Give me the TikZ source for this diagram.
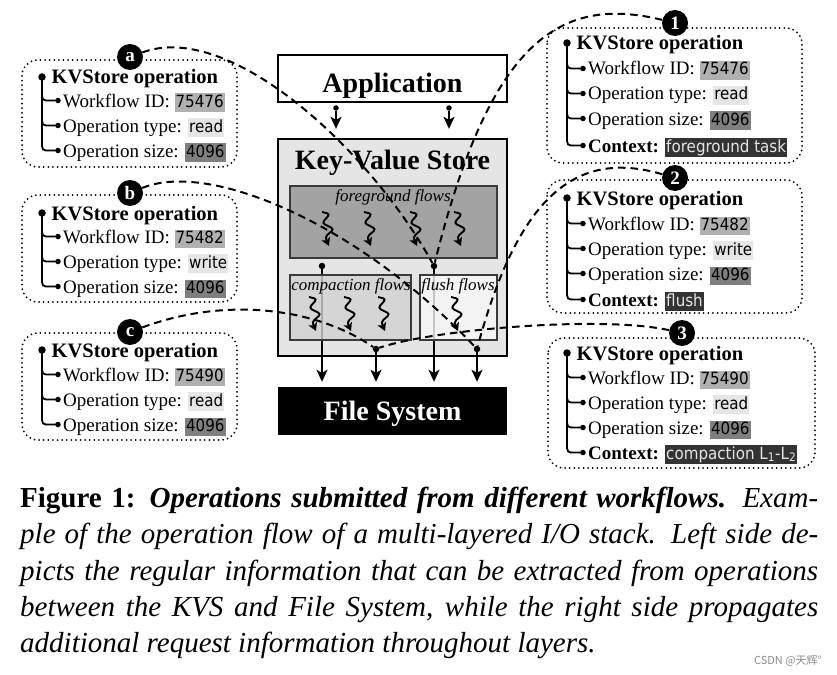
\documentclass[tikz,border=0pt]{standalone}
\usepackage{fontspec}
\setmainfont{Liberation Serif}
\newfontfamily\valfont[FakeStretch=0.9]{DejaVu Sans}
\newfontfamily\cjkfont{Noto Sans CJK SC}
\usetikzlibrary{arrows.meta}
\definecolor{vmid}{HTML}{B0B0B0}
\definecolor{vlight}{HTML}{E6E6E6}
\definecolor{vdark}{HTML}{7F7F7F}
\definecolor{vctx}{HTML}{333333}
\definecolor{kvsfill}{HTML}{E5E5E5}
\definecolor{fgfill}{HTML}{A3A3A3}
\definecolor{cpfill}{HTML}{D2D2D2}
\definecolor{flfill}{HTML}{F7F7F7}
\definecolor{edgegray}{HTML}{3A3A3A}
\newcommand\val[2]{{\setlength\fboxsep{1pt}\colorbox{#1}{\valfont\fontsize{16.8}{18}\selectfont\rule[-4pt]{0pt}{16.5pt}#2}}}
\newcommand\ctxval[1]{{\setlength\fboxsep{1pt}\colorbox{vctx}{\color{white!90!black}\valfont\fontsize{16.8}{18}\selectfont\rule[-4pt]{0pt}{16.5pt}#1}}}
\tikzset{
  tree/.style={line width=1.8pt},
  bigdot/.style={circle,fill=black,inner sep=0pt,minimum size=7.5pt},
  smalldot/.style={circle,fill=black,inner sep=0pt,minimum size=5.5pt},
  flowdot/.style={circle,fill=black,inner sep=0pt,minimum size=6.5pt},
  badge/.style={circle,fill=black,text=white,inner sep=0pt,minimum size=26pt,font=\bfseries\fontsize{19}{19}\selectfont},
  infobox/.style={draw,line width=2pt,dash pattern=on 0pt off 4.6pt,line cap=round,rounded corners=16pt},
  rowtxt/.style={anchor=base west,inner sep=0pt,font=\fontsize{19}{22}\selectfont},
  ttltxt/.style={anchor=base west,inner sep=0pt,font=\bfseries\fontsize{20.5}{22}\selectfont},
  link/.style={line width=2pt,dash pattern=on 7.5pt off 5pt},
  flowarrow/.style={line width=1.9pt,-{Stealth[length=12pt,width=11pt,inset=3pt]}},
  layer/.style={draw,line width=2.3pt,inner sep=0pt},
  subbox/.style={draw=edgegray,line width=2pt,inner sep=0pt},
  flowlbl/.style={font=\itshape\fontsize{17}{17}\selectfont,inner sep=0pt,anchor=base},
  bigtitle/.style={font=\bfseries\fontsize{28}{28}\selectfont,inner sep=0pt,anchor=base},
  captxt/.style={anchor=base west,inner sep=0pt,font=\itshape\fontsize{29}{34}\selectfont},
  squig/.pic={\draw[line width=1.9pt,rounded corners=3pt,-{Stealth[length=8pt,width=9pt,inset=2pt]}] (-6,0) -- (2,2) -- (-6,11) -- (6,17) -- (-3,25) -- (1,34);}
}
\newcommand\ttlrow[3]{\node[bigdot] (#1root) at (#2,#3-7) {};
  \node[ttltxt] (#1title) at (#2+9.5,#3) {KVStore operation};}
\newcommand\itemrow[5]{\node[smalldot] (#1dot) at (#2+16,#3-6.5) {};
  \draw[tree] (#2,#3-16) .. controls (#2,#3-6.5) .. (#2+8,#3-6.5) -- (#1dot.center);
  \node[rowtxt] (#1txt) at (#2+21,#3) {#4 #5};}
\begin{document}
\begin{tikzpicture}[x=1pt,y=-1pt]
\path[use as bounding box, fill=white] (0,0) rectangle (837,674);

% ---------- left info boxes ----------
\draw[infobox] (22,60) rectangle (237,167);
\ttlrow{a}{42}{84}
\itemrow{aa}{42}{107}{Workflow ID:}{\val{vmid}{75476}}
\itemrow{ab}{42}{132}{Operation type:}{\val{vlight}{read}}
\itemrow{ac}{42}{157}{Operation size:}{\val{vdark}{4096}}
\draw[tree] (aroot.center) -- (42,141);
\node[badge] (ba) at (130,57) {a};

\draw[infobox] (22,195) rectangle (237,302);
\ttlrow{b}{42}{220}
\itemrow{ba}{42}{243}{Workflow ID:}{\val{vmid}{75482}}
\itemrow{bb}{42}{268}{Operation type:}{\val{vlight}{write}}
\itemrow{bc}{42}{293}{Operation size:}{\val{vdark}{4096}}
\draw[tree] (broot.center) -- (42,277);
\node[badge] (bb) at (130,193) {b};

\draw[infobox] (22,333) rectangle (237,440);
\ttlrow{c}{42}{357}
\itemrow{ca}{42}{381}{Workflow ID:}{\val{vmid}{75490}}
\itemrow{cb}{42}{406}{Operation type:}{\val{vlight}{read}}
\itemrow{cc}{42}{431}{Operation size:}{\val{vdark}{4096}}
\draw[tree] (croot.center) -- (42,415);
\node[badge] (bc) at (130,332) {c};

% ---------- right info boxes ----------
\draw[infobox] (547,28) rectangle (802,163);
\ttlrow{p}{567}{50}
\itemrow{pa}{567}{75}{Workflow ID:}{\val{vmid}{75476}}
\itemrow{pb}{567}{100}{Operation type:}{\val{vlight}{read}}
\itemrow{pc}{567}{125}{Operation size:}{\val{vdark}{4096}}
\itemrow{pd}{567}{152}{\textbf{Context:}}{\ctxval{foreground task}}
\draw[tree] (proot.center) -- (567,136);
\node[badge] (b1) at (675,23) {1};

\draw[infobox] (547,180) rectangle (802,313);
\ttlrow{q}{567}{205}
\itemrow{qa}{567}{230}{Workflow ID:}{\val{vmid}{75482}}
\itemrow{qb}{567}{255}{Operation type:}{\val{vlight}{write}}
\itemrow{qc}{567}{280}{Operation size:}{\val{vdark}{4096}}
\itemrow{qd}{567}{306}{\textbf{Context:}}{\ctxval{flush}}
\draw[tree] (qroot.center) -- (567,290);
\node[badge] (b2) at (675,178) {2};

\draw[infobox] (548,338) rectangle (815,468);
\ttlrow{r}{567}{360}
\itemrow{ra}{567}{384}{Workflow ID:}{\val{vmid}{75490}}
\itemrow{rb}{567}{409}{Operation type:}{\val{vlight}{read}}
\itemrow{rc}{567}{434}{Operation size:}{\val{vdark}{4096}}
\itemrow{rd}{567}{459}{\textbf{Context:}}{\ctxval{compaction L\textsubscript{1}-L\textsubscript{2}}}
\draw[tree] (rroot.center) -- (567,443);
\node[badge] (b3) at (682,333) {3};

% ---------- central stack ----------
\node[layer, fill=kvsfill, minimum width=229pt, minimum height=217pt] (kvs) at (392.5,247.5) {};
\node[bigtitle] (kvstitle) at (392.5,169) {Key-Value Store};
\node[layer, fill=white, minimum width=229pt, minimum height=47pt] (app) at (392.5,78.5) {};
\node[bigtitle] (apptitle) at (392.5,92.5) {Application};
\node[fill=black, inner sep=0pt, minimum width=229pt, minimum height=48pt] (fs) at (392.5,411) {};
\node[bigtitle, text=white] (fstitle) at (392.5,420) {File System};

\node[smalldot] (ap1) at (336,108) {};
\node[smalldot] (ap2) at (449,108) {};
\draw[flowarrow, shorten >=9pt] (ap1) -- (ap1 |- kvs.north);
\draw[flowarrow, shorten >=9pt] (ap2) -- (ap2 |- kvs.north);

\node[flowdot] (d1) at (322,266) {};
\node[flowdot] (d2) at (434,266) {};
\node[flowdot] (d3) at (376,349) {};
\node[flowdot] (d4) at (477,349) {};
\draw[flowarrow, shorten >=5pt] (d1) -- (d1 |- fs.north);
\draw[flowarrow, shorten >=5pt] (d2) -- (d2 |- fs.north);
\draw[flowarrow, shorten >=5pt] (d3) -- (d3 |- fs.north);
\draw[flowarrow, shorten >=5pt] (d4) -- (d4 |- fs.north);

\node[subbox, fill=fgfill, minimum width=207pt, minimum height=72pt] (fg) at (393.5,222) {};
\node[subbox, fill=cpfill, fill opacity=0.8, minimum width=121pt, minimum height=65pt] (cp) at (350.5,307.5) {};
\node[subbox, fill=flfill, fill opacity=0.8, minimum width=77pt, minimum height=65pt] (fl) at (458.5,307.5) {};
\node[flowlbl] (fglbl) at (393,201) {foreground flows};
\node[flowlbl] (cplbl) at (351,290) {compaction flows};
\node[flowlbl] (fllbl) at (458,290) {flush flows};

\pic at (328,212) {squig};
\pic at (370,212) {squig};
\pic at (416,212) {squig};
\pic at (460,212) {squig};
\pic at (315,297) {squig};
\pic at (350,297) {squig};
\pic at (384,297) {squig};
\pic at (457,297) {squig};

% ---------- dashed links ----------
\draw[link] (ba) .. controls (230,20) and (370,150) .. (d2);
\draw[link] (bb) .. controls (210,160) and (360,225) .. (d4);
\draw[link] (bc) .. controls (230,295) and (320,310) .. (d3);
\draw[link] (b1) .. controls (560,-5) and (490,40) .. (d2);
\draw[link] (b2) .. controls (580,150) and (520,190) .. (d4);
\draw[link] (b3) .. controls (600,315) and (430,330) .. (d3);

% ---------- caption ----------
\node[captxt] (cap1) at (20,507) {\makebox[798pt][s]{\textbf{\upshape Figure 1:} \textbf{Operations submitted from different workflows.} Exam-}};
\node[captxt] (cap2) at (20,543) {\makebox[798pt][s]{ple of the operation flow of a multi-layered I/O stack. Left side de-}};
\node[captxt] (cap3) at (20,580) {\makebox[798pt][s]{picts the regular information that can be extracted from operations}};
\node[captxt] (cap4) at (20,616) {\makebox[798pt][s]{between the KVS and File System, while the right side propagates}};
\node[captxt] (cap5) at (20,652) {additional request information throughout layers.};
\node[anchor=base east, inner sep=0pt, text=black!45, font=\cjkfont\fontsize{11}{11}\selectfont] (wm) at (822,664) {CSDN @天辉°};
\end{tikzpicture}
\end{document}
